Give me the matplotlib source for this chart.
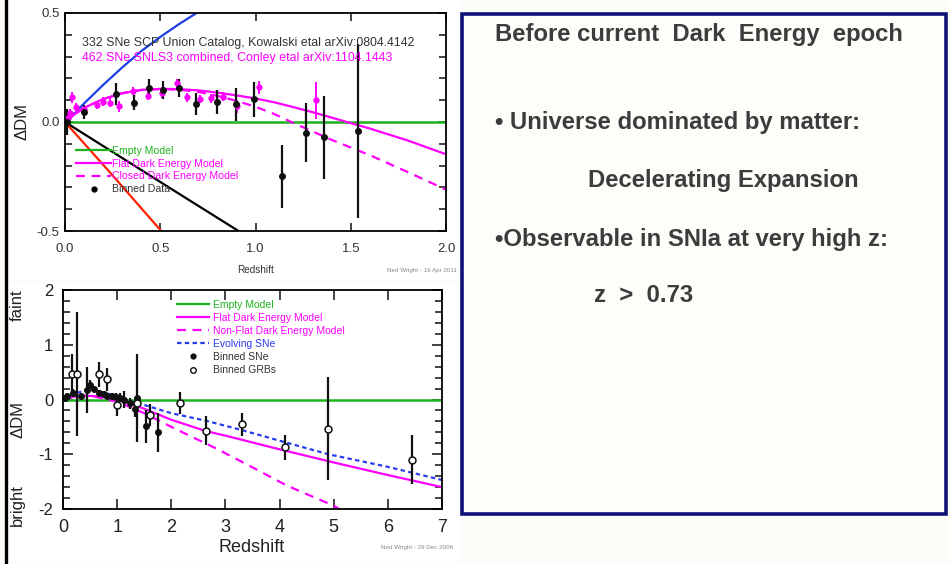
import matplotlib
matplotlib.use("Agg")
import matplotlib.pyplot as plt
from matplotlib.lines import Line2D
from matplotlib.patches import Rectangle
from matplotlib.ticker import MultipleLocator, FormatStrFormatter

plt.rcParams['font.family'] = ['Liberation Sans', 'DejaVu Sans']
plt.rcParams['axes.unicode_minus'] = False

# ---- top panel (Union / SNLS3, 2011) ----
top_z_flat = [0, 0.05, 0.1, 0.2, 0.3, 0.4, 0.5, 0.6, 0.7, 0.8, 0.9, 1.0, 1.1, 1.2, 1.3, 1.4, 1.5, 1.6, 1.8, 2.0]
top_dm_flat = [0, 0.035, 0.065, 0.105, 0.132, 0.147, 0.152, 0.151, 0.145, 0.135, 0.122, 0.108,
               0.09, 0.068, 0.045, 0.02, -0.005, -0.03, -0.085, -0.148]
top_z_closed = [0, 0.05, 0.1, 0.2, 0.3, 0.4, 0.5, 0.6, 0.7, 0.8, 0.9, 1.0, 1.1, 1.2, 1.4, 1.6, 1.8, 2.0]
top_dm_closed = [0, 0.035, 0.065, 0.105, 0.132, 0.147, 0.151, 0.148, 0.138, 0.12, 0.097, 0.07,
                 0.036, -0.005, -0.082, -0.152, -0.23, -0.31]
top_z_blue = [0, 0.05, 0.1, 0.2, 0.3, 0.4, 0.5, 0.6, 0.7]
top_dm_blue = [0, 0.04, 0.085, 0.17, 0.25, 0.325, 0.39, 0.45, 0.505]
top_z_black = [0, 0.3, 0.6, 0.92]
top_dm_black = [0, -0.165, -0.33, -0.505]
top_z_red = [0, 0.25, 0.51]
top_dm_red = [0, -0.245, -0.505]

union_z = [0.01, 0.10, 0.27, 0.36, 0.44, 0.515, 0.60, 0.69, 0.80, 0.90, 0.99, 1.14, 1.265, 1.36, 1.54]
union_dm = [0.0, 0.046, 0.127, 0.089, 0.155, 0.147, 0.155, 0.083, 0.093, 0.081, 0.104, -0.25, -0.049, -0.07, -0.04]
union_err = [0.06, 0.03, 0.05, 0.035, 0.04, 0.04, 0.04, 0.05, 0.055, 0.075, 0.08, 0.145, 0.135, 0.19, 0.40]

snls_z = [0.015, 0.026, 0.035, 0.06, 0.1, 0.17, 0.2, 0.236, 0.285, 0.355, 0.437, 0.507,
          0.586, 0.64, 0.71, 0.765, 0.83, 0.905, 1.02, 1.315]
snls_dm = [0.02, 0.04, 0.113, 0.067, 0.06, 0.078, 0.093, 0.089, 0.073, 0.142, 0.12, 0.135,
           0.177, 0.113, 0.105, 0.108, 0.116, 0.073, 0.159, 0.10]
snls_err = [0.02, 0.02, 0.025, 0.02, 0.02, 0.02, 0.02, 0.02, 0.025, 0.02, 0.02, 0.025,
            0.02, 0.02, 0.02, 0.02, 0.02, 0.03, 0.03, 0.085]

# ---- bottom panel (SNe + GRBs, 2006) ----
bot_z_flat = [0, 0.2, 0.4, 0.6, 0.8, 1.0, 1.2, 1.5, 2.0, 2.65, 3.0, 4.0, 5.0, 6.0, 7.0]
bot_dm_flat = [0, 0.05, 0.07, 0.06, 0.03, 0.0, -0.06, -0.17, -0.37, -0.58, -0.66, -0.91, -1.15, -1.38, -1.6]
bot_z_nonflat = [0, 0.3, 0.6, 1.0, 1.5, 2.04, 2.84, 3.52, 4.13, 5.0, 5.1]
bot_dm_nonflat = [0, 0.07, 0.05, -0.04, -0.25, -0.52, -0.9, -1.25, -1.57, -1.94, -2.0]
bot_z_evol = [0, 0.2, 0.45, 0.7, 1.0, 1.24, 1.5, 2.0, 2.65, 3.27, 4.1, 4.9, 6.0, 7.0]
bot_dm_evol = [0, 0.1, 0.18, 0.14, 0.06, -0.03, -0.1, -0.25, -0.39, -0.55, -0.78, -1.0, -1.23, -1.47]

sne_z = [0.03, 0.08, 0.19, 0.33, 0.44, 0.5, 0.58, 0.67, 0.75, 0.82, 0.9, 0.97, 1.05, 1.12, 1.23, 1.33, 1.37, 1.54, 1.75]
sne_dm = [0.03, 0.06, 0.12, 0.06, 0.18, 0.27, 0.19, 0.12, 0.1, 0.07, 0.06, 0.05, 0.03, 0.0, -0.07, -0.17, 0.03, -0.49, -0.6]
sne_err = [0.05, 0.05, 0.08, 0.06, 0.42, 0.08, 0.06, 0.06, 0.05, 0.05, 0.06, 0.06, 0.08, 0.15, 0.1, 0.15, 0.8, 0.3, 0.36]

grb_z = [0.16, 0.25, 0.67, 0.82, 1.0, 1.36, 1.61, 2.16, 2.65, 3.30, 4.10, 4.90, 6.44]
grb_dm = [0.46, 0.46, 0.46, 0.37, -0.1, -0.06, -0.28, -0.06, -0.57, -0.45, -0.87, -0.53, -1.1]
grb_err = [0.38, 1.13, 0.23, 0.21, 0.2, 0.12, 0.2, 0.2, 0.26, 0.21, 0.23, 0.94, 0.45]

# ---- slide text ----
slide_lines = [
    ("Before current  Dark  Energy  epoch", 495, 35),
    ("\u2022 Universe dominated by matter:", 495, 122),
    ("Decelerating Expansion", 588, 180),
    ("\u2022Observable in SNIa at very high z:", 495, 240),
    ("z  >  0.73", 594, 296),
]

GREEN = '#1db31d'
MAGENTA = '#ff00ff'
BLUE = '#2a3cf0'
W, H = 950, 564


def fx(x):
    return x / W


def fy(y):
    return 1 - y / H


def px_axes(x0, y0, x1, y1):
    return [fx(x0), fy(y1), (x1 - x0) / W, (y1 - y0) / H]


fig = plt.figure(figsize=(9.5, 5.64), dpi=100, facecolor='#fcfcf8')

# white paper behind the two pasted plots
fig.patches.append(Rectangle((fx(8), fy(280)), fx(460) - fx(8), fy(0) - fy(280),
                             transform=fig.transFigure, facecolor='white', edgecolor='none', zorder=-5))
fig.patches.append(Rectangle((fx(8), fy(562)), fx(460) - fx(8), fy(282) - fy(562),
                             transform=fig.transFigure, facecolor='white', edgecolor='none', zorder=-5))
# black edge at far left
fig.add_artist(Line2D([fx(5.5), fx(5.5)], [0, 1], transform=fig.transFigure, color='black', lw=2.4))

# ================= top plot =================
ax1 = fig.add_axes(px_axes(65, 13, 446, 231))
ax1.plot(top_z_black, top_dm_black, color='black', lw=1.6)
ax1.plot(top_z_red, top_dm_red, color='#ff2200', lw=1.6)
ax1.plot(top_z_blue, top_dm_blue, color='#1f3fe6', lw=1.6)
ax1.axhline(0, color=GREEN, lw=1.8)
ax1.plot(top_z_flat, top_dm_flat, color=MAGENTA, lw=1.6)
ax1.plot(top_z_closed, top_dm_closed, color=MAGENTA, lw=1.6, ls=(0, (4, 3)))
ax1.errorbar(snls_z, snls_dm, yerr=snls_err, fmt='o', color=MAGENTA, ms=3.5, elinewidth=1.4, capsize=0)
ax1.errorbar(union_z, union_dm, yerr=union_err, fmt='o', color='#111111', ms=4, elinewidth=1.6, capsize=0)
ax1.set_xlim(0, 2)
ax1.set_ylim(-0.5, 0.5)
ax1.xaxis.set_major_locator(MultipleLocator(0.5))
ax1.yaxis.set_major_locator(MultipleLocator(0.5))
ax1.yaxis.set_minor_locator(MultipleLocator(0.1))
ax1.xaxis.set_major_formatter(FormatStrFormatter('%.1f'))
ax1.yaxis.set_major_formatter(FormatStrFormatter('%.1f'))
ax1.tick_params(which='both', direction='in', top=True, right=True, width=1.2, color='#222')
ax1.tick_params(which='major', length=6)
ax1.tick_params(which='minor', length=5)
ax1.tick_params(axis='x', labelsize=9.5, pad=9, labelcolor='#333')
ax1.tick_params(axis='y', labelsize=9.5, pad=4, labelcolor='#333')
for s in ax1.spines.values():
    s.set_linewidth(1.3)

ax1.text(0.045, 0.85, "332 SNe SCP Union Catalog, Kowalski etal arXiv:0804.4142",
         transform=ax1.transAxes, fontsize=8.9, color='#333')
ax1.text(0.045, 0.78, "462 SNe SNLS3 combined, Conley etal arXiv:1104.1443",
         transform=ax1.transAxes, fontsize=8.9, color=MAGENTA)

h1 = [Line2D([], [], color=GREEN, lw=1.6),
      Line2D([], [], color=MAGENTA, lw=1.6),
      Line2D([], [], color=MAGENTA, lw=1.6, ls=(0, (4, 3))),
      Line2D([], [], color='black', marker='o', ms=3.5, ls='none')]
ax1.legend(h1, ["Empty Model", "Flat Dark Energy Model", "Closed Dark Energy Model", "Binned Data"],
           loc='upper left', bbox_to_anchor=(0.03, 0.39), frameon=False, fontsize=7.6,
           handlelength=3.3, handletextpad=0.1, labelspacing=0.26, borderpad=0, borderaxespad=0,
           labelcolor=[GREEN, MAGENTA, MAGENTA, '#333'])

fig.text(fx(22), fy(122), "\u0394DM", rotation=90, ha='center', va='center', fontsize=12, color='#222')
fig.text(fx(256), fy(270), "Redshift", ha='center', va='center', fontsize=7.2, color='#333')
fig.text(fx(457), fy(270), "Ned Wright - 16 Apr 2011", ha='right', va='center', fontsize=4.5, color='#888')

# ================= bottom plot =================
ax2 = fig.add_axes(px_axes(63, 290, 442, 509))
ax2.axhline(0, color=GREEN, lw=1.8)
ax2.plot(bot_z_evol, bot_dm_evol, color=BLUE, lw=1.6, ls=(0, (2, 1.5)))
ax2.plot(bot_z_flat, bot_dm_flat, color=MAGENTA, lw=1.6)
ax2.plot(bot_z_nonflat, bot_dm_nonflat, color=MAGENTA, lw=1.6, ls=(0, (4, 3)))
ax2.errorbar(sne_z, sne_dm, yerr=sne_err, fmt='o', color='#111', ms=4, elinewidth=1.6, capsize=0)
ax2.errorbar(grb_z, grb_dm, yerr=grb_err, fmt='o', color='#111', mfc='white', mec='#111',
             mew=1.1, ms=5, elinewidth=1.6, capsize=0)
ax2.set_xlim(0, 7)
ax2.set_ylim(-2, 2)
ax2.xaxis.set_major_locator(MultipleLocator(1))
ax2.yaxis.set_major_locator(MultipleLocator(1))
ax2.yaxis.set_minor_locator(MultipleLocator(0.2))
ax2.tick_params(which='both', direction='in', top=True, right=True, width=1.2, color='#222')
ax2.tick_params(which='major', length=7)
ax2.tick_params(which='minor', length=5)
ax2.tick_params(axis='x', labelsize=13, pad=7, labelcolor='#222')
ax2.tick_params(axis='y', labelsize=12, pad=7, labelcolor='#222')
for s in ax2.spines.values():
    s.set_linewidth(1.3)

h2 = [Line2D([], [], color=GREEN, lw=1.6),
      Line2D([], [], color=MAGENTA, lw=1.6),
      Line2D([], [], color=MAGENTA, lw=1.6, ls=(0, (4, 3))),
      Line2D([], [], color=BLUE, lw=1.6, ls=(0, (2, 1.5))),
      Line2D([], [], color='#111', marker='o', ms=3.5, ls='none'),
      Line2D([], [], color='#111', marker='o', mfc='white', mew=1, ms=4, ls='none')]
ax2.legend(h2, ["Empty Model", "Flat Dark Energy Model", "Non-Flat Dark Energy Model", "Evolving SNe",
                "Binned SNe", "Binned GRBs"],
           loc='upper left', bbox_to_anchor=(0.30, 0.956), frameon=False, fontsize=7.5,
           handlelength=3.1, handletextpad=0.4, labelspacing=0.3, borderpad=0, borderaxespad=0,
           labelcolor=[GREEN, MAGENTA, MAGENTA, BLUE, '#333', '#333'])

fig.text(fx(18), fy(420), "\u0394DM", rotation=90, ha='center', va='center', fontsize=12, color='#222')
fig.text(fx(17), fy(305), "faint", rotation=90, ha='center', va='center', fontsize=12, color='#222')
fig.text(fx(17), fy(505), "bright", rotation=90, ha='center', va='center', fontsize=12, color='#222')
fig.text(fx(252), fy(547), "Redshift", ha='center', va='center', fontsize=13, color='#222')
fig.text(fx(453), fy(548), "Ned Wright - 29 Dec 2006", ha='right', va='center', fontsize=4.5, color='#888')

# ================= text box =================
fig.patches.append(Rectangle((fx(462), fy(514)), fx(946) - fx(462), fy(14) - fy(514),
                             transform=fig.transFigure, facecolor='#fdfdf9', edgecolor='#10107a',
                             lw=2.6, zorder=1))
for txt, x, y in slide_lines:
    fig.text(fx(x), fy(y), txt, ha='left', va='center', fontsize=17.2, fontweight='bold',
             color='#3c3c3c', zorder=3)

fig.savefig("out.png", dpi=100, facecolor=fig.get_facecolor())
